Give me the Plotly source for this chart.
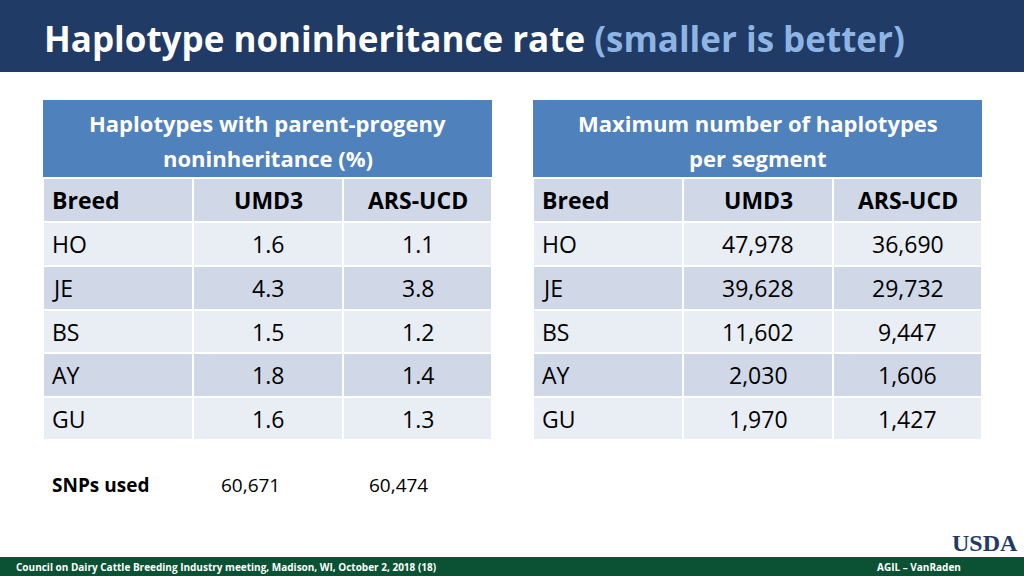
import plotly.graph_objects as go

title_main = "Haplotype noninheritance rate"
title_sub = "(smaller is better)"
breeds = ["HO", "JE", "BS", "AY", "GU"]
col_heads = ["Breed", "UMD3", "ARS-UCD"]
left_title = ["Haplotypes with parent-progeny", "noninheritance (%)"]
left_umd3 = ["1.6", "4.3", "1.5", "1.8", "1.6"]
left_ars = ["1.1", "3.8", "1.2", "1.4", "1.3"]
right_title = ["Maximum number of haplotypes", "per segment"]
right_umd3 = ["47,978", "39,628", "11,602", "2,030", "1,970"]
right_ars = ["36,690", "29,732", "9,447", "1,606", "1,427"]
snp_label = "SNPs used"
snp_vals = ["60,671", "60,474"]
footer = "Council on Dairy Cattle Breeding Industry meeting, Madison, WI, October 2, 2018 (18)"
footer_r = "AGIL – VanRaden"

FONT = "Open Sans"
shapes, ann = [], []

def rect(x0, y0, x1, y1, color, line=None):
    shapes.append(dict(type="rect", x0=x0, y0=y0, x1=x1, y1=y1, fillcolor=color,
                       line=dict(width=2 if line else 0, color=line or color), layer="below"))

def text(x, y, t, size, color="black", bold=False, xanchor="center"):
    ann.append(dict(x=x, y=y, text=f"<b>{t}</b>" if bold else t, showarrow=False,
                    xanchor=xanchor, yanchor="middle",
                    font=dict(family=FONT, size=size, color=color)))

# title bar
rect(0, 0, 1024, 72, "#1F3B66")
ann.append(dict(x=42, y=38, xanchor="left", yanchor="middle", showarrow=False,
                text=f"<b>{title_main} <span style='color:#8EB4E3'>{title_sub}</span></b>",
                font=dict(family=FONT, size=35, color="white")))

row_edges = [178, 222, 266, 310, 353, 397, 440]

def table(x0, title, c1, c2):
    w = 150
    xs = [x0, x0 + w, x0 + 2 * w, x0 + 3 * w - 1]
    rect(xs[0], 100, xs[3], 178, "#4F81BD")
    xc = (xs[0] + xs[3]) / 2
    text(xc, 123, title[0], 22, color="white", bold=True)
    text(xc, 158, title[1], 22, color="white", bold=True)
    rows = [col_heads] + [[b, u, a] for b, u, a in zip(breeds, c1, c2)]
    for i, r in enumerate(rows):
        y0, y1 = row_edges[i], row_edges[i + 1]
        col = "#D0D8E8" if i % 2 == 0 else "#E9EDF4"
        for j in range(3):
            rect(xs[j], y0, xs[j + 1], y1, col, line="white")
        yc = (y0 + y1) / 2
        text(xs[0] + 7, yc, r[0], 23, bold=(i == 0), xanchor="left")
        text((xs[1] + xs[2]) / 2, yc, r[1], 23, bold=(i == 0))
        text((xs[2] + xs[3]) / 2, yc, r[2], 23, bold=(i == 0))

table(43, left_title, left_umd3, left_ars)
table(533, right_title, right_umd3, right_ars)

text(50, 485, snp_label, 19, bold=True, xanchor="left")
text(250, 485, snp_vals[0], 19)
text(398, 485, snp_vals[1], 19)

# footer
rect(0, 557, 1024, 576, "#0B5234")
text(14, 567, footer, 10, color="white", bold=True, xanchor="left")
text(963, 567, footer_r, 10, color="white", bold=True, xanchor="right")
ann.append(dict(x=1020, y=543, text="<b>USDA</b>", showarrow=False, xanchor="right",
                yanchor="middle", font=dict(family="Liberation Serif", size=24, color="#1F3B66")))

fig = go.Figure()
fig.update_layout(width=1024, height=576, margin=dict(l=0, r=0, t=0, b=0),
                  paper_bgcolor="white", plot_bgcolor="white",
                  xaxis=dict(range=[0, 1024], visible=False, fixedrange=True),
                  yaxis=dict(range=[576, 0], visible=False, fixedrange=True),
                  shapes=shapes, annotations=ann, showlegend=False)
fig.write_html("out.html", config={"displayModeBar": False},
               post_script="document.body.style.margin='0';document.body.style.overflow='hidden';")
